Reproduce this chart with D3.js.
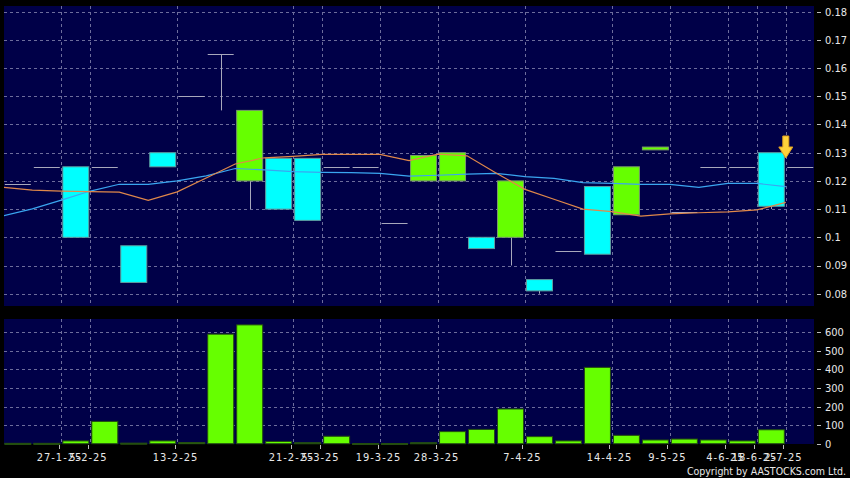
<!DOCTYPE html>
<html><head><meta charset="utf-8">
<script src="https://cdn.jsdelivr.net/npm/d3@7"></script>
<style>body{margin:0;background:#000}svg{display:block}</style>
</head><body><svg id="c" width="850" height="478"></svg>
<script>
const opens  = [0.119,0.125,0.125,0.125,0.097,0.13,0.15,0.165,0.12,0.128,0.128,0.125,0.125,0.105,0.12,0.12,0.10,0.10,0.085,0.095,0.118,0.108,0.131,0.109,0.125,0.125,0.13,0.125];
const closes = [0.119,0.125,0.10,0.125,0.084,0.125,0.15,0.165,0.145,0.11,0.106,0.125,0.125,0.105,0.129,0.13,0.096,0.12,0.081,0.095,0.094,0.125,0.132,0.109,0.125,0.125,0.111,0.125];
const highs  = [0.119,0.125,0.125,0.125,0.097,0.13,0.15,0.165,0.145,0.128,0.128,0.125,0.125,0.105,0.129,0.13,0.10,0.12,0.085,0.095,0.118,0.125,0.132,0.109,0.125,0.125,0.13,0.125];
const lows   = [0.119,0.125,0.10,0.125,0.084,0.125,0.15,0.145,0.11,0.11,0.106,0.125,0.125,0.105,0.12,0.12,0.096,0.09,0.08,0.095,0.094,0.108,0.131,0.109,0.125,0.125,0.11,0.125];
const volumes = [2,2,15,120,3,15,6,590,640,12,5,40,1,1,5,65,77,187,38,15,411,45,20,25,20,15,75,0];
const maOrange = [0.1177,0.1167,0.1164,0.1162,0.1160,0.1131,0.1161,0.121,0.126,0.1282,0.1287,0.1294,0.1294,0.1294,0.1272,0.1295,0.1289,0.1228,0.117,0.1135,0.110,0.1091,0.1075,0.1083,0.1087,0.109,0.1097,0.1124];
const maBlue   = [0.1076,0.1101,0.1132,0.1164,0.1188,0.1188,0.120,0.1218,0.1244,0.1239,0.1233,0.123,0.1229,0.1227,0.1217,0.122,0.1224,0.1227,0.1215,0.1209,0.1194,0.1191,0.1188,0.1188,0.1177,0.1191,0.1191,0.118];
const tickSlots  = [2,3,6,10,11,13,15,18,21,23,25,26,27];
const tickLabels = ["27-1-25","5-2-25","13-2-25","21-2-25","5-3-25","19-3-25","28-3-25","7-4-25","14-4-25","9-5-25","4-6-25","18-6-25","2-7-25"];
const priceTicks = [0.08,0.09,0.1,0.11,0.12,0.13,0.14,0.15,0.16,0.17,0.18];
const priceTickLabels = ["0.08","0.09","0.1","0.11","0.12","0.13","0.14","0.15","0.16","0.17","0.18"];
const volTicks = [0,100,200,300,400,500,600];

const svg = d3.select("#c");
const BG = "#000048", GRID = "#6d6d9c";
const FONT = "'DejaVu Sans Condensed','DejaVu Sans',sans-serif";
svg.append("rect").attr("width",850).attr("height",478).attr("fill","#000");

const x = d3.scaleBand().domain(d3.range(opens.length)).range([3.35, 3.35 + 28.98*28]).padding(0);
const step = x.step();
const y = d3.scaleLinear().domain([0.08,0.18]).range([293.7,11.7]);
const yv = d3.scaleLinear().domain([0,600]).range([443.7,332.3]);

const P = {x:4, y:6, w:810, h:300};
const V = {x:4, y:319, w:810, h:125};
svg.append("rect").attr("x",P.x).attr("y",P.y).attr("width",P.w).attr("height",P.h).attr("fill",BG);
svg.append("rect").attr("x",V.x).attr("y",V.y).attr("width",V.w).attr("height",V.h).attr("fill",BG);
svg.append("clipPath").attr("id","cp").append("rect").attr("x",P.x).attr("y",P.y).attr("width",P.w).attr("height",P.h);

const g = svg.append("g").attr("stroke",GRID).attr("stroke-width",1).attr("stroke-dasharray","3,3");
priceTicks.forEach(t=>g.append("line").attr("x1",P.x).attr("x2",P.x+P.w).attr("y1",Math.round(y(t))+0.5).attr("y2",Math.round(y(t))+0.5));
volTicks.slice(1).forEach(t=>g.append("line").attr("x1",V.x).attr("x2",V.x+V.w).attr("y1",Math.round(yv(t))+0.5).attr("y2",Math.round(yv(t))+0.5));
tickSlots.forEach(k=>{
  const xx = Math.round(x(k))+0.5;
  g.append("line").attr("x1",xx).attr("x2",xx).attr("y1",P.y).attr("y2",P.y+P.h);
  g.append("line").attr("x1",xx).attr("x2",xx).attr("y1",V.y).attr("y2",V.y+V.h);
});

// candles
const cg = svg.append("g").attr("clip-path","url(#cp)");
opens.forEach((o,i)=>{
  const c = closes[i], cx = Math.round(x(i)+step/2)+0.5;
  const x0 = x(i)+1.5, w = step-3;
  const top = Math.max(o,c), bot = Math.min(o,c);
  if (highs[i] > top) cg.append("line").attr("x1",cx).attr("x2",cx).attr("y1",y(highs[i])).attr("y2",y(top)).attr("stroke","#a8a8bc");
  if (lows[i] < bot) cg.append("line").attr("x1",cx).attr("x2",cx).attr("y1",y(bot)).attr("y2",y(lows[i])).attr("stroke","#a8a8bc");
  if (o === c) {
    cg.append("line").attr("x1",x0).attr("x2",x0+w).attr("y1",Math.round(y(o))+0.5).attr("y2",Math.round(y(o))+0.5).attr("stroke","#a8a8bc");
  } else {
    cg.append("rect").attr("x",x0).attr("y",y(top)).attr("width",w).attr("height",Math.max(2,y(bot)-y(top)))
      .attr("fill", c>o ? "#66ff00" : "#00ffff").attr("stroke", c>o ? "#7a9a6a" : "#5f9ea0").attr("stroke-width",1);
  }
});

// moving averages
const line = d3.line().x((d,i)=>x(i)).y(d=>y(d));
cg.append("path").datum(maBlue).attr("d",line).attr("fill","none").attr("stroke","#3aa6f0").attr("stroke-width",1.2);
cg.append("path").datum(maOrange).attr("d",line).attr("fill","none").attr("stroke","#e0884a").attr("stroke-width",1.2);

// arrow
const ax = x(27);
svg.append("path").attr("d",`M${ax-3},136 L${ax+3},136 L${ax+3},147 L${ax+7},147 L${ax},158 L${ax-7},147 L${ax-3},147 Z`)
  .attr("fill","#ffd23a").attr("stroke","#e0a020").attr("stroke-width",1);

// volume bars
volumes.forEach((v,i)=>{
  if (v<=0) return;
  svg.append("rect").attr("x",x(i)+1.5).attr("y",yv(v)).attr("width",step-3).attr("height",Math.max(1,yv(0)-yv(v)))
    .attr("fill","#66ff00").attr("stroke","#244d10").attr("stroke-width",1);
});

// y axes
const ta = svg.append("g").attr("font-family",FONT).attr("font-size",11).attr("fill","#e8e8e8");
priceTicks.forEach((t,i)=>{
  svg.append("line").attr("x1",817).attr("x2",821).attr("y1",Math.round(y(t))+0.5).attr("y2",Math.round(y(t))+0.5).attr("stroke","#bbb");
  ta.append("text").attr("x",825).attr("y",y(t)).attr("dy","0.36em").text(priceTickLabels[i]);
});
volTicks.forEach(t=>{
  svg.append("line").attr("x1",817).attr("x2",821).attr("y1",Math.round(yv(t))+0.5).attr("y2",Math.round(yv(t))+0.5).attr("stroke","#bbb");
  ta.append("text").attr("x",825).attr("y",yv(t)).attr("dy","0.36em").text(t);
});
// x axis
tickSlots.forEach((k,i)=>{
  const xx = Math.round(x(k)-2.5)+0.5;
  svg.append("line").attr("x1",xx).attr("x2",xx).attr("y1",445).attr("y2",449).attr("stroke","#bbb");
  ta.append("text").attr("x",xx).attr("y",461).attr("text-anchor","middle").attr("letter-spacing","1px").text(tickLabels[i]);
});
ta.append("text").attr("x",846).attr("y",475).attr("text-anchor","end").attr("font-size",10.5).text("Copyright by AASTOCKS.com Ltd.");
</script></body></html>
